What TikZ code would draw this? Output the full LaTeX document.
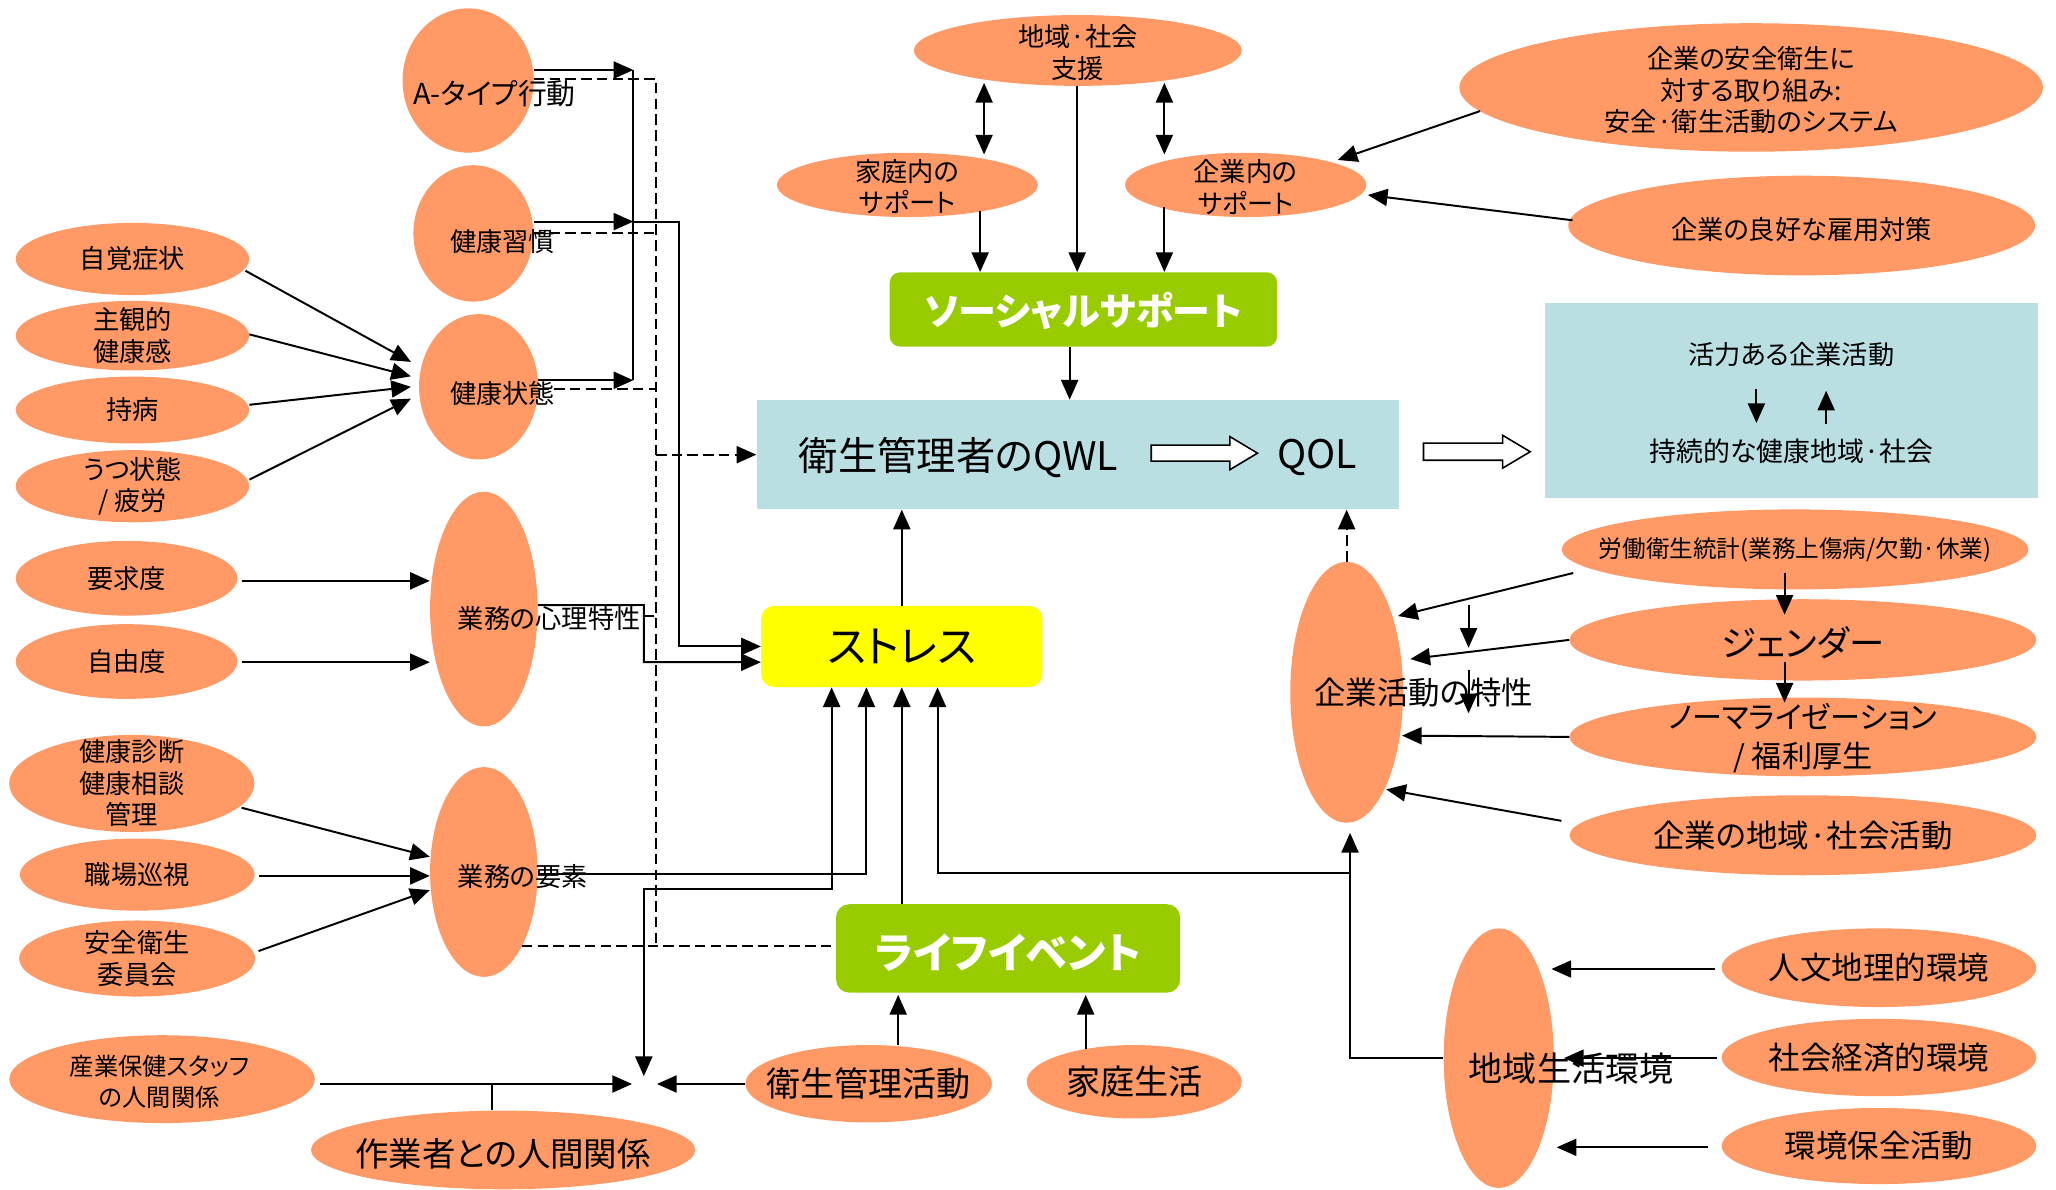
\documentclass[tikz,border=0pt]{standalone}
\usepackage{fontspec}
\setmainfont{Noto Sans CJK JP}[RawFeature={+palt}]
\usetikzlibrary{arrows.meta,calc,shapes.geometric}
\definecolor{orng}{HTML}{FF9966}
\definecolor{grn}{HTML}{99CC00}
\definecolor{lblue}{HTML}{B9DFE2}
\definecolor{ylw}{HTML}{FFFF00}
\begin{document}
\begin{tikzpicture}[x=1pt,y=-1pt,
  ell/.style={ellipse, fill=orng, draw=none, inner sep=0pt},
  lbl/.style={inner sep=0pt, align=center, font=\fontsize{20}{24}\selectfont},
  boxr/.style={rectangle, draw=none, inner sep=0pt},
  con/.style={line width=1.5pt},
  arr/.style={con, -{Triangle[length=15pt,width=13pt]}},
  dsh/.style={con, dash pattern=on 8pt off 4pt},
  darr/.style={dsh, -{Triangle[length=15pt,width=13pt]}},
  dbl/.style={con, {Triangle[length=15pt,width=13pt]}-{Triangle[length=15pt,width=13pt]}},
  hollow/.style={line width=1.2pt, fill=white},
]
\fill[white] (0,0) rectangle (1568,907);
\useasboundingbox (0,0) rectangle (1568,907);

% ---------- left column ellipses
\node[ell, minimum width=178pt, minimum height=55pt] (jikaku) at (101,197.5) {};
\node[ell, minimum width=178pt, minimum height=53pt] (shukan) at (101,256) {};
\node[ell, minimum width=178pt, minimum height=51pt] (jibyo) at (101,312.7) {};
\node[ell, minimum width=178pt, minimum height=55pt] (utsu) at (101,370.8) {};
\node[ell, minimum width=169pt, minimum height=57pt] (yokyu) at (96.5,441) {};
\node[ell, minimum width=169pt, minimum height=57pt] (jiyu) at (96.5,504.5) {};
\node[ell, minimum width=187pt, minimum height=74pt] (shindan) at (100.5,597.5) {};
\node[ell, minimum width=179pt, minimum height=55pt] (junshi) at (104.7,667) {};
\node[ell, minimum width=180pt, minimum height=58pt] (iinkai) at (104.6,731) {};
\node[ell, minimum width=233pt, minimum height=67pt] (staff) at (123.6,823) {};
\node[ell, minimum width=293pt, minimum height=60pt] (sagyo) at (383.7,877) {};

% ---------- second column ellipses
\node[ell, minimum width=100pt, minimum height=110pt] (atype) at (357,61.4) {};
\node[ell, minimum width=91.4pt, minimum height=104pt] (habit) at (361,178) {};
\node[ell, minimum width=90.8pt, minimum height=110.8pt] (health) at (365,295) {};
\node[ell, minimum width=82pt, minimum height=179pt] (shinri) at (369,464.5) {};
\node[ell, minimum width=82pt, minimum height=160pt] (yoso) at (369,665) {};

% ---------- centre
\node[ell, minimum width=250pt, minimum height=54pt] (chiiki) at (822,38.5) {};
\node[ell, minimum width=199pt, minimum height=49pt] (katei) at (692,141) {};
\node[ell, minimum width=184pt, minimum height=49pt] (kigyonai) at (950,141) {};
\node[boxr, fill=grn, rounded corners=8pt, minimum width=295.5pt, minimum height=56.7pt] (social) at (826.25,236) {};
\node[boxr, fill=lblue, minimum width=490pt, minimum height=83.5pt] (qwl) at (822,346.75) {};
\node[boxr, fill=lblue, minimum width=376pt, minimum height=149pt] (rbox) at (1366,305.5) {};
\node[boxr, fill=ylw, rounded corners=10pt, minimum width=214.5pt, minimum height=62pt] (stress) at (687.75,493) {};
\node[boxr, fill=grn, rounded corners=10pt, minimum width=262.4pt, minimum height=67.4pt] (life) at (768.8,723.3) {};
\node[ell, minimum width=188pt, minimum height=59pt] (eiseikatsu) at (662.5,826.5) {};
\node[ell, minimum width=164pt, minimum height=56pt] (kateiseikatsu) at (865,825) {};

% ---------- right
\node[ell, minimum width=445pt, minimum height=98pt] (anzen) at (1335.5,66.7) {};
\node[ell, minimum width=356pt, minimum height=76pt] (koyo) at (1374,172) {};
\node[ell, minimum width=356pt, minimum height=61pt] (tokei) at (1369,419) {};
\node[ell, minimum width=356pt, minimum height=62pt] (gender) at (1375,488) {};
\node[ell, minimum width=356pt, minimum height=60pt] (normal) at (1375,562) {};
\node[ell, minimum width=356pt, minimum height=61pt] (kigyochiiki) at (1375,637) {};
\node[ell, minimum width=86pt, minimum height=199pt] (tokusei) at (1027,528) {};
\node[ell, minimum width=240pt, minimum height=60pt] (jinbun) at (1433,738) {};
\node[ell, minimum width=240pt, minimum height=59pt] (shakai) at (1433,806.5) {};
\node[ell, minimum width=240pt, minimum height=58pt] (hozen) at (1433,874) {};
\node[ell, minimum width=84pt, minimum height=198pt] (chiikiseikatsu) at (1143,807) {};

% ---------- connectors: left inputs to health
\draw[arr] ($(jikaku.east)+(-3,9)$) -- ($(health.west)+(-6,-19)$);
\draw[arr] ($(shukan.east)+(0,-1)$) -- ($(health.west)+(-6,-8)$);
\draw[arr] ($(jibyo.east)+(0,-4)$) -- ($(health.west)+(-6,0)$);
\draw[arr] ($(utsu.east)+(0,-5)$) -- ($(health.west)+(-6,9)$);

% A-type, habit, health collectors
\coordinate (ja) at (483,53.4);
\coordinate (jh) at (483,169);
\coordinate (js) at (483,290);
\draw[arr] (atype.east |- ja) -- (ja);
\draw[arr] (habit.east |- jh) -- (jh);
\draw[arr] (health.east |- js) -- (js);
\draw[con] (ja) -- (js);
\draw[arr] (jh) -| ($(stress.west)+(-62.5,0)$) -- (stress.west);

% dashed rail
\coordinate (da) at (500.3,60.3);
\coordinate (db) at (500.3,721.5);
\draw[dsh] (atype.east |- da) -- (da) -- (db);
\draw[dsh] (habit.east) -- (habit.east -| da);
\draw[dsh] ($(health.east)+(0,2)$) -- ($(health.east -| da)+(0,2)$);
\draw[darr] (da |- qwl.west) -- (qwl.west);
\draw[dsh] (491,469.6) -- (500.3,469.6);
\draw[dsh] (398,721.5) -- (life.west |- db);

% shinri -> stress
\draw[arr] ($(shinri.east)+(0,-3)$) -- (491,461.4) -- (491,505) -- ($(stress.west)+(0,12)$);
\draw[arr] ($(yokyu.east)+(3,2)$) -- ($(shinri.west)+(0,-21.5)$);
\draw[arr] ($(jiyu.east)+(3,0.5)$) -- ($(shinri.west)+(0,40.5)$);

% yoso inputs and outputs
\draw[arr] ($(shindan.east)+(-10,18.5)$) -- ($(yoso.west)+(0,-11.6)$);
\draw[arr] ($(junshi.east)+(3,1)$) -- ($(yoso.west)+(0,3)$);
\draw[arr] ($(iinkai.east)+(2.4,-5.7)$) -- ($(yoso.west)+(0,13.8)$);
\draw[arr] ($(yoso.east)+(0,1.7)$) -| ($(stress.south)+(-27,0)$);

% human relations meeting point
\coordinate (meet) at (491,826.7);
\draw[dbl] ($(stress.south)+(-53.5,0)$) |- (491,678) -- ($(meet)+(0,-6)$);
\draw[arr] ($(staff.east)+(4,3.7)$) -- ($(meet)+(-9,0)$);
\draw[con] (375,826.7) -- (sagyo.north -| 375,0);
\draw[arr] (eiseikatsu.west |- meet) -- ($(meet)+(10,0)$);

% life event, stress, QWL
\draw[arr] (life.north -| stress.south) -- (stress.south);
\draw[arr] (stress.north) -- (qwl.south -| stress.north);
\draw[arr] ($(eiseikatsu.north)+(22.5,0)$) -- ++(0,-38);
\draw[arr] ($(kateiseikatsu.north)+(-37,3)$) -- ++(0,-41);

% regional environment
\draw[arr] (chiikiseikatsu.west) -| ($(tokusei.south)+(2.6,7.5)$);
\draw[arr] (1029.6,665.6) -| ($(stress.south)+(27.25,0)$);
\draw[darr] (tokusei.north) -- (tokusei.north |- qwl.south);

% right inputs to tokusei
\draw[arr] ($(tokei.west)+(9,18)$) -- ($(tokusei.east)+(-4,-58.2)$);
\draw[arr] (gender.west) -- ($(tokusei.east)+(5.4,-25.4)$);
\draw[arr] (normal.west) -- ($(tokusei.east)+(-1,33)$);
\draw[arr] ($(kigyochiiki.west)+(-6,-11)$) -- ($(tokusei.east)+(-13,74)$);
\draw[arr] (1120,461.4) -- (1120,494);
\draw[arr] (1120,511) -- (1120,544);
\draw[arr] ($(tokei.south)+(-8,-13)$) -- ($(gender.north)+(-14,12)$);
\draw[arr] ($(gender.south)+(-14,-14.6)$) -- ($(normal.north)+(-14,4)$);

\draw[arr] ($(jinbun.west)+(-5,1)$) -- ($(chiikiseikatsu.east)+(-2,-68)$);
\draw[arr] ($(shakai.west)+(-3,0.5)$) -- ($(chiikiseikatsu.east)+(7.5,0)$);
\draw[arr] ($(hozen.west)+(-10,1)$) -- ($(chiikiseikatsu.east)+(2,68)$);

% top: social support
\draw[dbl] ($(chiiki.south)+(-71.5,-2.5)$) -- ($(katei.north)+(58.5,1.5)$);
\draw[dbl] ($(chiiki.south)+(66,-2.5)$) -- ($(kigyonai.north)+(-62,1.5)$);
\draw[arr] ($(katei.south)+(55.5,-4.5)$) -- ($(social.north)+(-78.75,0)$);
\draw[arr] ($(chiiki.south)+(-0.5,0)$) -- ($(social.north)+(-4.75,0)$);
\draw[arr] ($(kigyonai.south)+(-62,-7.5)$) -- ($(social.north)+(61.75,0)$);
\draw[arr] ($(social.south)+(-10.5,0)$) -- (qwl.north -| 815.75,0);
\draw[arr] ($(anzen.west)+(16,18)$) -- ($(kigyonai.east)+(-22,-19)$);
\draw[arr] ($(koyo.west)+(3.5,-4)$) -- ($(kigyonai.east)+(1,7.7)$);

% right box inner arrows
\draw[arr] (1339.5,297) -- (1339.5,322.6);
\draw[arr] (1392.7,323) -- (1392.7,298);

% hollow arrows
\draw[hollow] (878,339.5)--(938,339.5)--(938,333)--(959,345.6)--(938,358.2)--(938,351.7)--(878,351.7)--cycle;
\draw[hollow] (1085.6,338)--(1146,338)--(1146,332)--(1167,344.5)--(1146,357)--(1146,351)--(1085.6,351)--cycle;

% ---------- texts
\node[lbl] (t-jikaku) at (jikaku) {自覚症状};
\node[lbl] (t-shukan) at (shukan) {主観的\\健康感};
\node[lbl] (t-jibyo) at (jibyo) {持病};
\node[lbl] (t-utsu) at (utsu) {うつ状態\\/ 疲労};
\node[lbl] (t-yokyu) at (yokyu) {要求度};
\node[lbl] (t-jiyu) at (jiyu) {自由度};
\node[lbl] (t-shindan) at (shindan) {健康診断\\健康相談\\管理};
\node[lbl] (t-junshi) at (junshi) {職場巡視};
\node[lbl] (t-iinkai) at (iinkai) {安全衛生\\委員会};
\node[lbl, font=\fontsize{18.5}{24}\selectfont] (t-staff) at ($(staff)+(-2,2)$) {産業保健スタッフ\\の人間関係};
\node[lbl, font=\fontsize{25.5}{30}\selectfont] (t-sagyo) at ($(sagyo)+(0,3)$) {作業者との人間関係};

\node[lbl, anchor=west, font=\fontsize{22}{24}\selectfont] (t-atype) at (315,71) {A-タイプ行動};
\node[lbl, anchor=west] (t-habit) at (343,184) {健康習慣};
\node[lbl, anchor=west] (t-health) at (343,300) {健康状態};
\node[lbl, anchor=west] (t-shinri) at (349,471.5) {業務の心理特性};
\node[lbl, anchor=west] (t-yoso) at (349,668.6) {業務の要素};

\node[lbl] (t-chiiki) at ($(chiiki)+(0,1.5)$) {地域·社会\\支援};
\node[lbl] (t-katei) at ($(katei)+(0,1.5)$) {家庭内の\\サポート};
\node[lbl] (t-kigyonai) at ($(kigyonai)+(0,1.5)$) {企業内の\\サポート};
\node[lbl, text=white, font=\fontsize{29}{32}\selectfont\bfseries] (t-social) at ($(social)+(0,1.5)$) {ソーシャルサポート};
\node[lbl, anchor=west, font=\fontsize{30}{34}\selectfont] (t-qwl) at (609,349) {衛生管理者のQWL};
\node[lbl, anchor=west, font=\fontsize{30}{34}\selectfont] (t-qol) at (974,349) {QOL};
\node[lbl] (t-katsuryoku) at (1366,270.7) {活力ある企業活動};
\node[lbl, font=\fontsize{20.5}{24}\selectfont] (t-jizoku) at (1366,344.5) {持続的な健康地域·社会};
\node[lbl, font=\fontsize{33}{36}\selectfont] (t-stress) at (stress) {ストレス};
\node[lbl, text=white, font=\fontsize{32}{36}\selectfont\bfseries] (t-life) at ($(life)+(0,3)$) {ライフイベント};
\node[lbl, font=\fontsize{26}{30}\selectfont] (t-eisei) at (eiseikatsu) {衛生管理活動};
\node[lbl, font=\fontsize{26}{30}\selectfont] (t-kateis) at (kateiseikatsu) {家庭生活};

\node[lbl] (t-anzen) at ($(anzen)+(0,2)$) {企業の安全衛生に\\対する取り組み:\\安全·衛生活動のシステム};
\node[lbl] (t-koyo) at ($(koyo)+(0,3)$) {企業の良好な雇用対策};
\node[lbl, font=\fontsize{18}{22}\selectfont] (t-tokei) at (tokei) {労働衛生統計(業務上傷病/欠勤·休業)};
\node[lbl, font=\fontsize{27}{30}\selectfont] (t-gender) at ($(gender)+(0,2)$) {ジェンダー};
\node[lbl, font=\fontsize{23}{30}\selectfont] (t-normal) at ($(normal)+(0,1)$) {ノーマライゼーション\\/ 福利厚生};
\node[lbl, font=\fontsize{24}{28}\selectfont] (t-kigyochiiki) at (kigyochiiki) {企業の地域·社会活動};
\node[lbl, anchor=west, font=\fontsize{24}{28}\selectfont] (t-tokusei) at (1002,528.5) {企業活動の特性};
\node[lbl, font=\fontsize{24}{28}\selectfont] (t-jinbun) at (jinbun) {人文地理的環境};
\node[lbl, font=\fontsize{24}{28}\selectfont] (t-shakai) at (shakai) {社会経済的環境};
\node[lbl, font=\fontsize{24}{28}\selectfont] (t-hozen) at (hozen) {環境保全活動};
\node[lbl, anchor=west, font=\fontsize{26}{30}\selectfont] (t-chiikis) at (1120,814.6) {地域生活環境};
\end{tikzpicture}
\end{document}
